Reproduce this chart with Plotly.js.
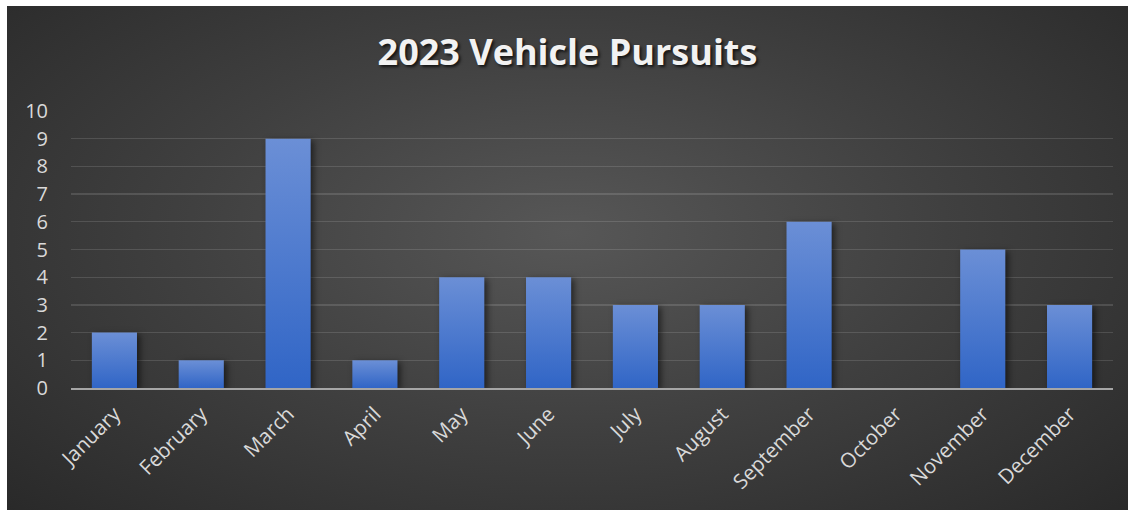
<!DOCTYPE html>
<html><head><meta charset="utf-8">
<script src="https://cdn.plot.ly/plotly-3.0.1.min.js"></script>
<style>
html,body{margin:0;padding:0;background:#fff;}
#wrap{position:relative;width:1135px;height:516px;}
#bg{position:absolute;left:7px;top:6px;width:1121px;height:504px;
 background:radial-gradient(ellipse 75% 85% at 50% 45%, #575757 0%, #404040 45%, #262626 100%);}
#chart{position:absolute;left:0;top:0;width:1135px;height:516px;}
.gtitle{text-shadow:2px 2px 3px rgba(0,0,0,0.7);}
.bars path{filter:drop-shadow(3px 2px 3px rgba(0,0,0,0.55));}
</style></head>
<body><div id="wrap"><div id="bg"></div><div id="chart"></div></div>
<script>
const months = ["January","February","March","April","May","June","July","August","September","October","November","December"];
const pursuits = [2,1,9,1,4,4,3,3,6,0,5,3];
const yTicks = [0,1,2,3,4,5,6,7,8,9,10];
const chartTitle = "2023 Vehicle Pursuits";

const trace = {type:"bar", x:months, y:pursuits,
  marker:{color:"#4a77cc", line:{width:0}}, hoverinfo:"x+y"};
const layout = {
  width:1135, height:516,
  paper_bgcolor:"rgba(0,0,0,0)", plot_bgcolor:"rgba(0,0,0,0)",
  margin:{l:71, r:22, t:111, b:128},
  title:{text:"<b>"+chartTitle+"</b>", x:0.5, xanchor:"center", y:0.898, yanchor:"middle",
    font:{family:"Open Sans, sans-serif", size:36, color:"#f2f2f2"}},
  bargap:0.48,
  showlegend:false,
  font:{family:"Open Sans, sans-serif", color:"#d9d9d9"},
  xaxis:{tickangle:-45, tickfont:{size:20.5, color:"#d9d9d9"}, showgrid:false,
    showline:true, linecolor:"#a6a6a6", linewidth:2, ticks:"", ticklabelstandoff:4},
  yaxis:{range:[0,10], tickvals:yTicks, tickfont:{size:20, color:"#d9d9d9"},
    gridcolor:"rgba(255,255,255,0.13)", gridwidth:1.3, zeroline:false, showline:false,
    ticks:"", ticklabelstandoff:22}
};
Plotly.newPlot("chart",[trace],layout,{displayModeBar:false, staticPlot:true}).then(gd=>{
  const svg = gd.querySelector("svg.main-svg");
  const ns="http://www.w3.org/2000/svg";
  let defs = svg.querySelector("defs");
  const lg=document.createElementNS(ns,"linearGradient");
  lg.setAttribute("id","barGrad");lg.setAttribute("x1","0");lg.setAttribute("y1","0");lg.setAttribute("x2","0");lg.setAttribute("y2","1");
  [["0%","#6b8fd6"],["100%","#3065c6"]].forEach(([o,c])=>{const s=document.createElementNS(ns,"stop");s.setAttribute("offset",o);s.setAttribute("stop-color",c);lg.appendChild(s);});
  defs.appendChild(lg);
  gd.querySelectorAll(".bars path").forEach(p=>{p.style.fill="url(#barGrad)";});
});
</script></body></html>
